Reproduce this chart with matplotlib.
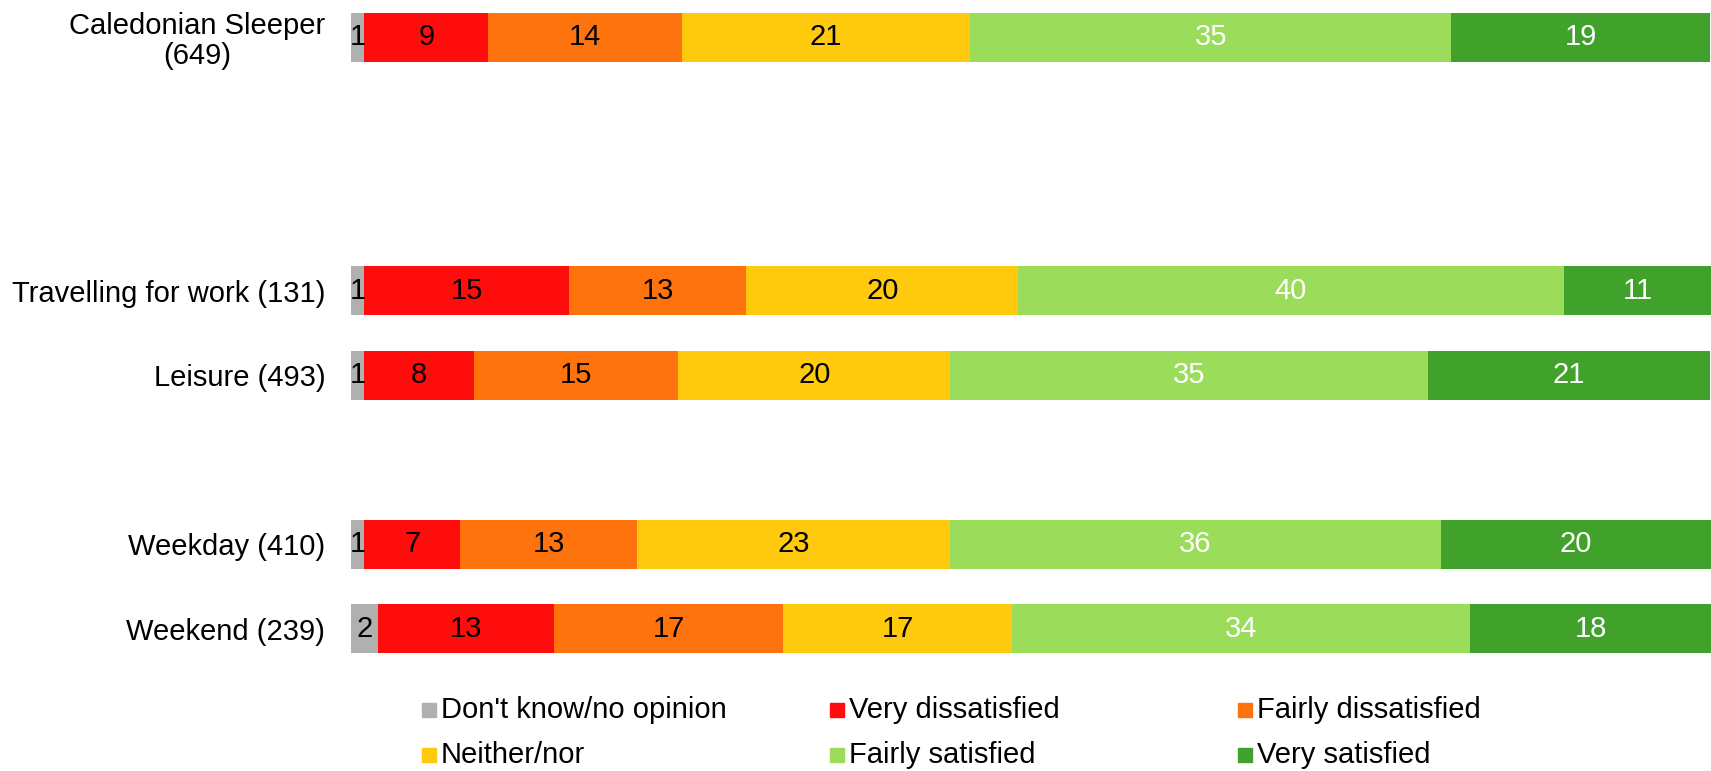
import matplotlib.pyplot as plt
from matplotlib.patches import Rectangle

plt.rcParams['font.family'] = ['Liberation Sans', 'DejaVu Sans']

# row labels and percentages (labels show rounded values)
groups = ["Caledonian Sleeper\n(649)", "Travelling for work (131)", "Leisure (493)",
          "Weekday (410)", "Weekend (239)"]
categories = ["Don't know/no opinion", "Very dissatisfied", "Fairly dissatisfied",
              "Neither/nor", "Fairly satisfied", "Very satisfied"]
dont_know = [0.96, 0.96, 0.96, 0.96, 2.0]
very_dis = [9.15, 15.1, 8.1, 7.07, 12.9]
fairly_dis = [14.2, 13.0, 15.0, 13.0, 16.9]
neither = [21.2, 20.0, 20.0, 23.0, 16.8]
fairly_sat = [35.4, 40.1, 35.1, 36.1, 33.7]
very_sat = [19.0, 10.9, 20.8, 19.9, 17.7]

series = [dont_know, very_dis, fairly_dis, neither, fairly_sat, very_sat]
colors = ["#B0B0B0", "#FF0D0D", "#FF730F", "#FFC90E", "#9BDC5A", "#40A22A"]
text_colors = ["black", "black", "black", "black", "white", "white"]
ypos = [0, 3, 4, 6, 7]
fs = 21

fig = plt.figure(figsize=(17.11, 7.71), dpi=100)
ax = fig.add_axes([351 / 1711, 1 - 671 / 771, 1 - 351 / 1711, 671 / 771])

left = [0.0] * len(groups)
for vals, col, tcol in zip(series, colors, text_colors):
    ax.barh(ypos, vals, left=left, height=0.58, color=col, edgecolor='none')
    for y, l, v in zip(ypos, left, vals):
        ax.text(l + v / 2, y, f"{v:.0f}", ha='center', va='center',
                color=tcol, fontsize=fs)
    left = [l + v for l, v in zip(left, vals)]

ax.set_xlim(0, 100)
ax.set_ylim(7.5, -0.44)
ax.set_yticks(ypos)
ax.set_yticklabels(groups, fontsize=fs)
for lab in ax.get_yticklabels():
    lab.set_multialignment('center')
    lab.set_linespacing(1.1)
ax.tick_params(axis='y', length=0, pad=18.5)
ax.set_xticks([])
for s in ax.spines.values():
    s.set_visible(False)

# legend, laid out in a 3x2 grid like the original
for i, (name, col) in enumerate(zip(categories, colors)):
    c, r = i % 3, i // 3
    x = 422 + c * 408
    y = 710 + r * 45
    fig.patches.append(Rectangle((x / 1711, 1 - (y + 7) / 771), 14 / 1711, 14 / 771,
                                 transform=fig.transFigure, color=col))
    fig.text((x + 19) / 1711, 1 - y / 771, name, fontsize=fs, va='center', ha='left')

fig.savefig("out.png", dpi=100)
